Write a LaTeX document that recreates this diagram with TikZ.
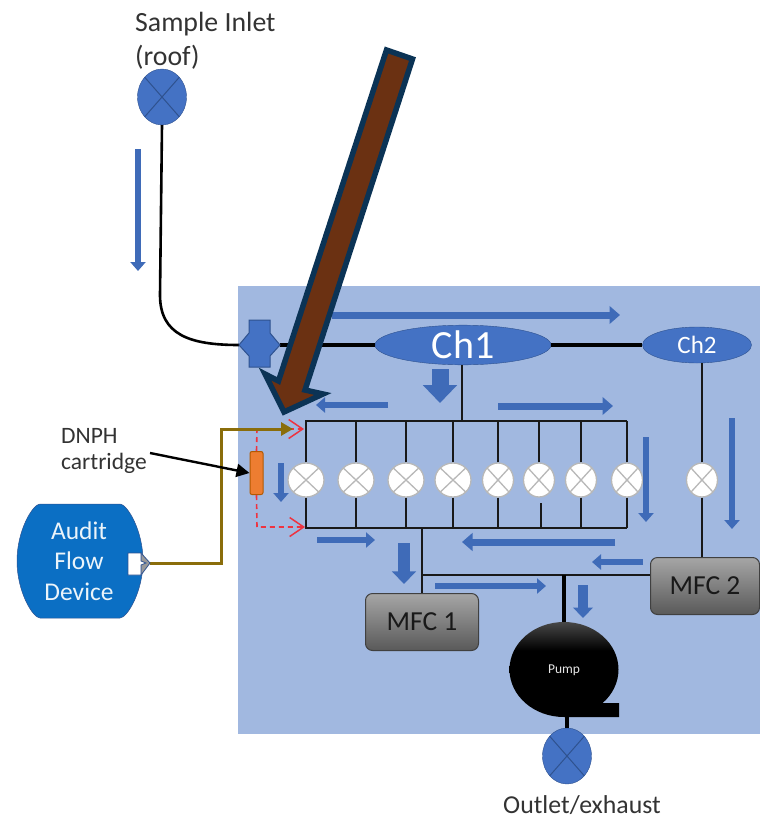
\documentclass[tikz,border=0pt]{standalone}
\usepackage{fontspec}
\setmainfont{Carlito}
\usetikzlibrary{arrows.meta,shapes.geometric}
\definecolor{panelblue}{HTML}{A1B8E0}
\definecolor{flowblue}{HTML}{3F6BB8}
\definecolor{chblue}{HTML}{4472C4}
\definecolor{chedge}{HTML}{2F528F}
\definecolor{auditblue}{HTML}{0B6FC4}
\definecolor{auditline}{HTML}{8A6D0B}
\definecolor{brownarrow}{HTML}{6B3112}
\definecolor{navyedge}{HTML}{0B3355}
\definecolor{redline}{HTML}{EE3340}
\definecolor{cartorange}{HTML}{ED7D31}
\pgfdeclareverticalshading{pumpshade}{100bp}{color(0bp)=(black); color(60bp)=(black); color(75bp)=(black!72); color(100bp)=(black!72)}
\tikzset{
  txt/.style={font=\fontsize{#1}{#1}\selectfont},
  label/.style={text=black!80,align=left,inner sep=0pt,font=\fontsize{27.8}{34}\selectfont},
  chamber/.style={ellipse,draw=chedge,fill=chblue,text=white,inner sep=0pt},
  xvalve/.style={ellipse,inner sep=0pt,minimum width=#1,minimum height=34pt,draw=black!28,line width=1.3pt,fill=white,
    path picture={\draw [black!28,line width=1.3pt]
      (path picture bounding box.north west) -- (path picture bounding box.south east)
      (path picture bounding box.north east) -- (path picture bounding box.south west);}},
  bluevalve/.style={ellipse,inner sep=0pt,minimum width=49pt,minimum height=56pt,draw=chedge,fill=chblue,
    path picture={\draw [chedge,line width=1pt]
      (path picture bounding box.north west) -- (path picture bounding box.south east)
      (path picture bounding box.north east) -- (path picture bounding box.south west);}},
  mfc/.style={rectangle,rounded corners=7pt,draw=black!75,line width=1pt,top color=black!35,bottom color=black!65,inner sep=0pt,text=black!90},
  pipe/.style={black!90,line width=1.8pt},
  fatpipe/.style={black,line width=3.2pt},
  flow/.style={flowblue,line width=#1,-{Triangle[length=0pt 1.5,width=0pt 2.5]}},
  blockflow/.style={flowblue,line width=#1,-{Triangle[length=0pt 1.05,width=0pt 1.95]}},
  sampleline/.style={redline,line width=1.6pt,dash pattern=on 5pt off 4pt,-{Straight Barb[length=14pt,width=19pt,line width=1.5pt]}}
}
\begin{document}
\begin{tikzpicture}[x=1pt,y=-1pt]
\useasboundingbox (0,0) rectangle (760,820);
\fill [panelblue] (238,286) rectangle (760,734);
% rails and pipes
\coordinate (railtl) at (305,421);
\coordinate (railtr) at (627,421);
\coordinate (railbl) at (305,528);
\coordinate (railbr) at (627,528);
\node [chamber,minimum width=176pt,minimum height=36pt,txt=40] (ch1) at (463,345) {Ch1};
\node [chamber,minimum width=109pt,minimum height=36pt,txt=25] (ch2) at (697,345) {Ch2};
\node [mfc,minimum width=113pt,minimum height=57pt,txt=27.5] (mfca) at (422,622) {MFC 1};
\node [mfc,minimum width=109pt,minimum height=57pt,txt=27.5] (mfcb) at (705,586) {MFC 2};
\node [bluevalve] (inlet) at (162,97) {};
\node [bluevalve] (outlet) at (567,756) {};
\coordinate (inletbend) at (160,295);
\coordinate (crossw) at (239,345);
\coordinate (crosse) at (280,345);
\draw [black,line width=2.6pt] (inlet.south) -- (inletbend) .. controls (160,335) and (190,345) .. (crossw);
\draw [fatpipe] (crosse) -- (ch1.west);
\draw [fatpipe] (ch1.east) -- (ch2.west);
\filldraw [fill=chblue,draw=chedge,line width=1pt] (249,320) -- (270,320) -- (270,333) -- (crosse) -- (270,356) -- (270,367) -- (249,367) -- (249,356) -- (crossw) -- (249,333) -- cycle;
\draw [pipe] (railtl) -- (railtr);
\draw [pipe] (railbl) -- (railbr);
\coordinate (chdrop) at (462,421);
\draw [pipe] (ch1.south -| chdrop) -- (chdrop);
% valves
\foreach \i/\vx/\vw in {1/306/36,2/356/36,3/406/36,4/453/36,5/498/31,6/539/31,7/581/31,8/627/31}
{
  \node [xvalve=\vw pt] (v\i) at (\vx,480) {};
  \draw [pipe] (v\i.north) -- (v\i.north |- railtl);
}
\foreach \i in {1,2,3,4,5,7,8}
  \draw [pipe] (v\i.south) -- (v\i.south |- railbl);
\coordinate (stub) at (541,503);
\draw [pipe] (stub) -- (stub |- railbl);
\node [xvalve=31pt] (vch) at (702,480) {};
\draw [pipe] (vch.north) -- (vch.north |- ch2.south);
\draw [pipe] (vch.south) -- (vch.south |- mfcb.north);
% lower pipes
\coordinate (drop) at (422,528);
\coordinate (tee) at (422,575);
\coordinate (pumptee) at (564,575);
\draw [pipe] (drop) -- (mfca.north -| drop);
\draw [pipe] (tee) -- (tee -| mfcb.west);
% pump
\shade [shading=pumpshade] (564,669.5) ellipse [x radius=54.5,y radius=47.5];
\fill [black] (564,717) -- (619,717) -- (619,703) -- (598,703) -- (590,690) -- (564,690) -- cycle;
\node [text=white!90!black,txt=13.5,inner sep=0pt] (pump) at (564,670) {Pump};
\coordinate (pumpin) at (564,622);
\coordinate (pumpout) at (567,717);
\draw [fatpipe] (pumptee) -- (pumpin);
\draw [fatpipe] (pumpout) -- (outlet.north);
% flow arrows
\foreach \n/\xa/\ya/\xb/\yb/\w in {a/138/149/138/271/6,b/332/315/620/315/7,c/388/405/316/405/6,d/498/406/613/406/7,
    e/281/463/281/502/6,f/646/437/646/522/6,g/732/418/732/529/6,h/317/540/375/540/6,
    i/615/542/462/542/7,j/643/562/592/562/6,k/435/586/546/586/6}
{
  \coordinate (flow\n a) at (\xa,\ya);
  \coordinate (flow\n b) at (\xb,\yb);
  \draw [flow=\w pt] (flow\n a) -- (flow\n b);
}
\foreach \n/\xa/\ya/\yb/\w in {l/440/369/403/17,m/404/543/584/12,n/583/585/618/10}
{
  \coordinate (flow\n a) at (\xa,\ya);
  \coordinate (flow\n b) at (\xa,\yb);
  \draw [blockflow=\w pt] (flow\n a) -- (flow\n b);
}
% cartridge and audit line
\node [rectangle,rounded corners=2pt,draw=orange!70!black,fill=cartorange,line width=1pt,minimum width=13pt,minimum height=43pt,inner sep=0pt] (cart) at (256.5,473) {};
\coordinate (redtop) at (257,429);
\coordinate (redtip) at (304,429);
\coordinate (redbot) at (257,527);
\coordinate (redend) at (305,527);
\draw [sampleline] (cart.north) -- (redtop) -- (redtip);
\draw [sampleline] (cart.south) -- (redbot) -- (redend);
\coordinate (auditport) at (150,563);
\coordinate (auditcorner) at (221,429);
\coordinate (audittip) at (293,429);
\draw [auditline,line width=3pt,-{Triangle[length=12pt,width=13pt]}] (auditport) -| (auditcorner) -- (audittip);
% audit device
\filldraw [fill=auditblue,draw=chedge,line width=0.5pt] (40,504) -- (120,504) .. controls (127,504) and (143,530) .. (143,561) .. controls (143,592) and (127,618) .. (120,618) -- (40,618) .. controls (33,618) and (17,592) .. (17,561) .. controls (17,530) and (33,504) .. (40,504) -- cycle;
\node [text=white!92!auditblue,align=center,inner sep=0pt,font=\fontsize{25.5}{30.5}\selectfont] (audit) at (79,561) {Audit\\Flow\\Device};
\filldraw [fill=black!40,draw=chedge,line width=0.8pt] (141,553) -- (150,563) -- (141,575) -- cycle;
\filldraw [fill=white,draw=chedge,line width=0.8pt] (128,553) -- (141,553) -- (141,561) -- (146,563) -- (141,565) -- (141,575) -- (128,575) -- cycle;
% labels
\node [label,anchor=north west] (inletlabel) at (135,12) {Sample Inlet\\(roof)};
\node [label,anchor=north west,font=\fontsize{23.5}{26}\selectfont] (cartlabel) at (61,428) {DNPH\\cartridge};
\node [label,font=\fontsize{25.8}{28}\selectfont] (outletlabel) at (582,805) {Outlet/exhaust};
\coordinate (cartarrow) at (150,453);
\draw [black,line width=2.4pt,-{Triangle[length=13pt,width=13pt]}] (cartarrow) -- (cart.west);
% big arrow
\filldraw [fill=brownarrow,draw=navyedge,line width=5.5pt,miter limit=6] (386.5,50) -- (412.5,59) -- (305,390) -- (323,394) -- (284,412) -- (265,374) -- (278.5,381) -- cycle;
\end{tikzpicture}
\end{document}
